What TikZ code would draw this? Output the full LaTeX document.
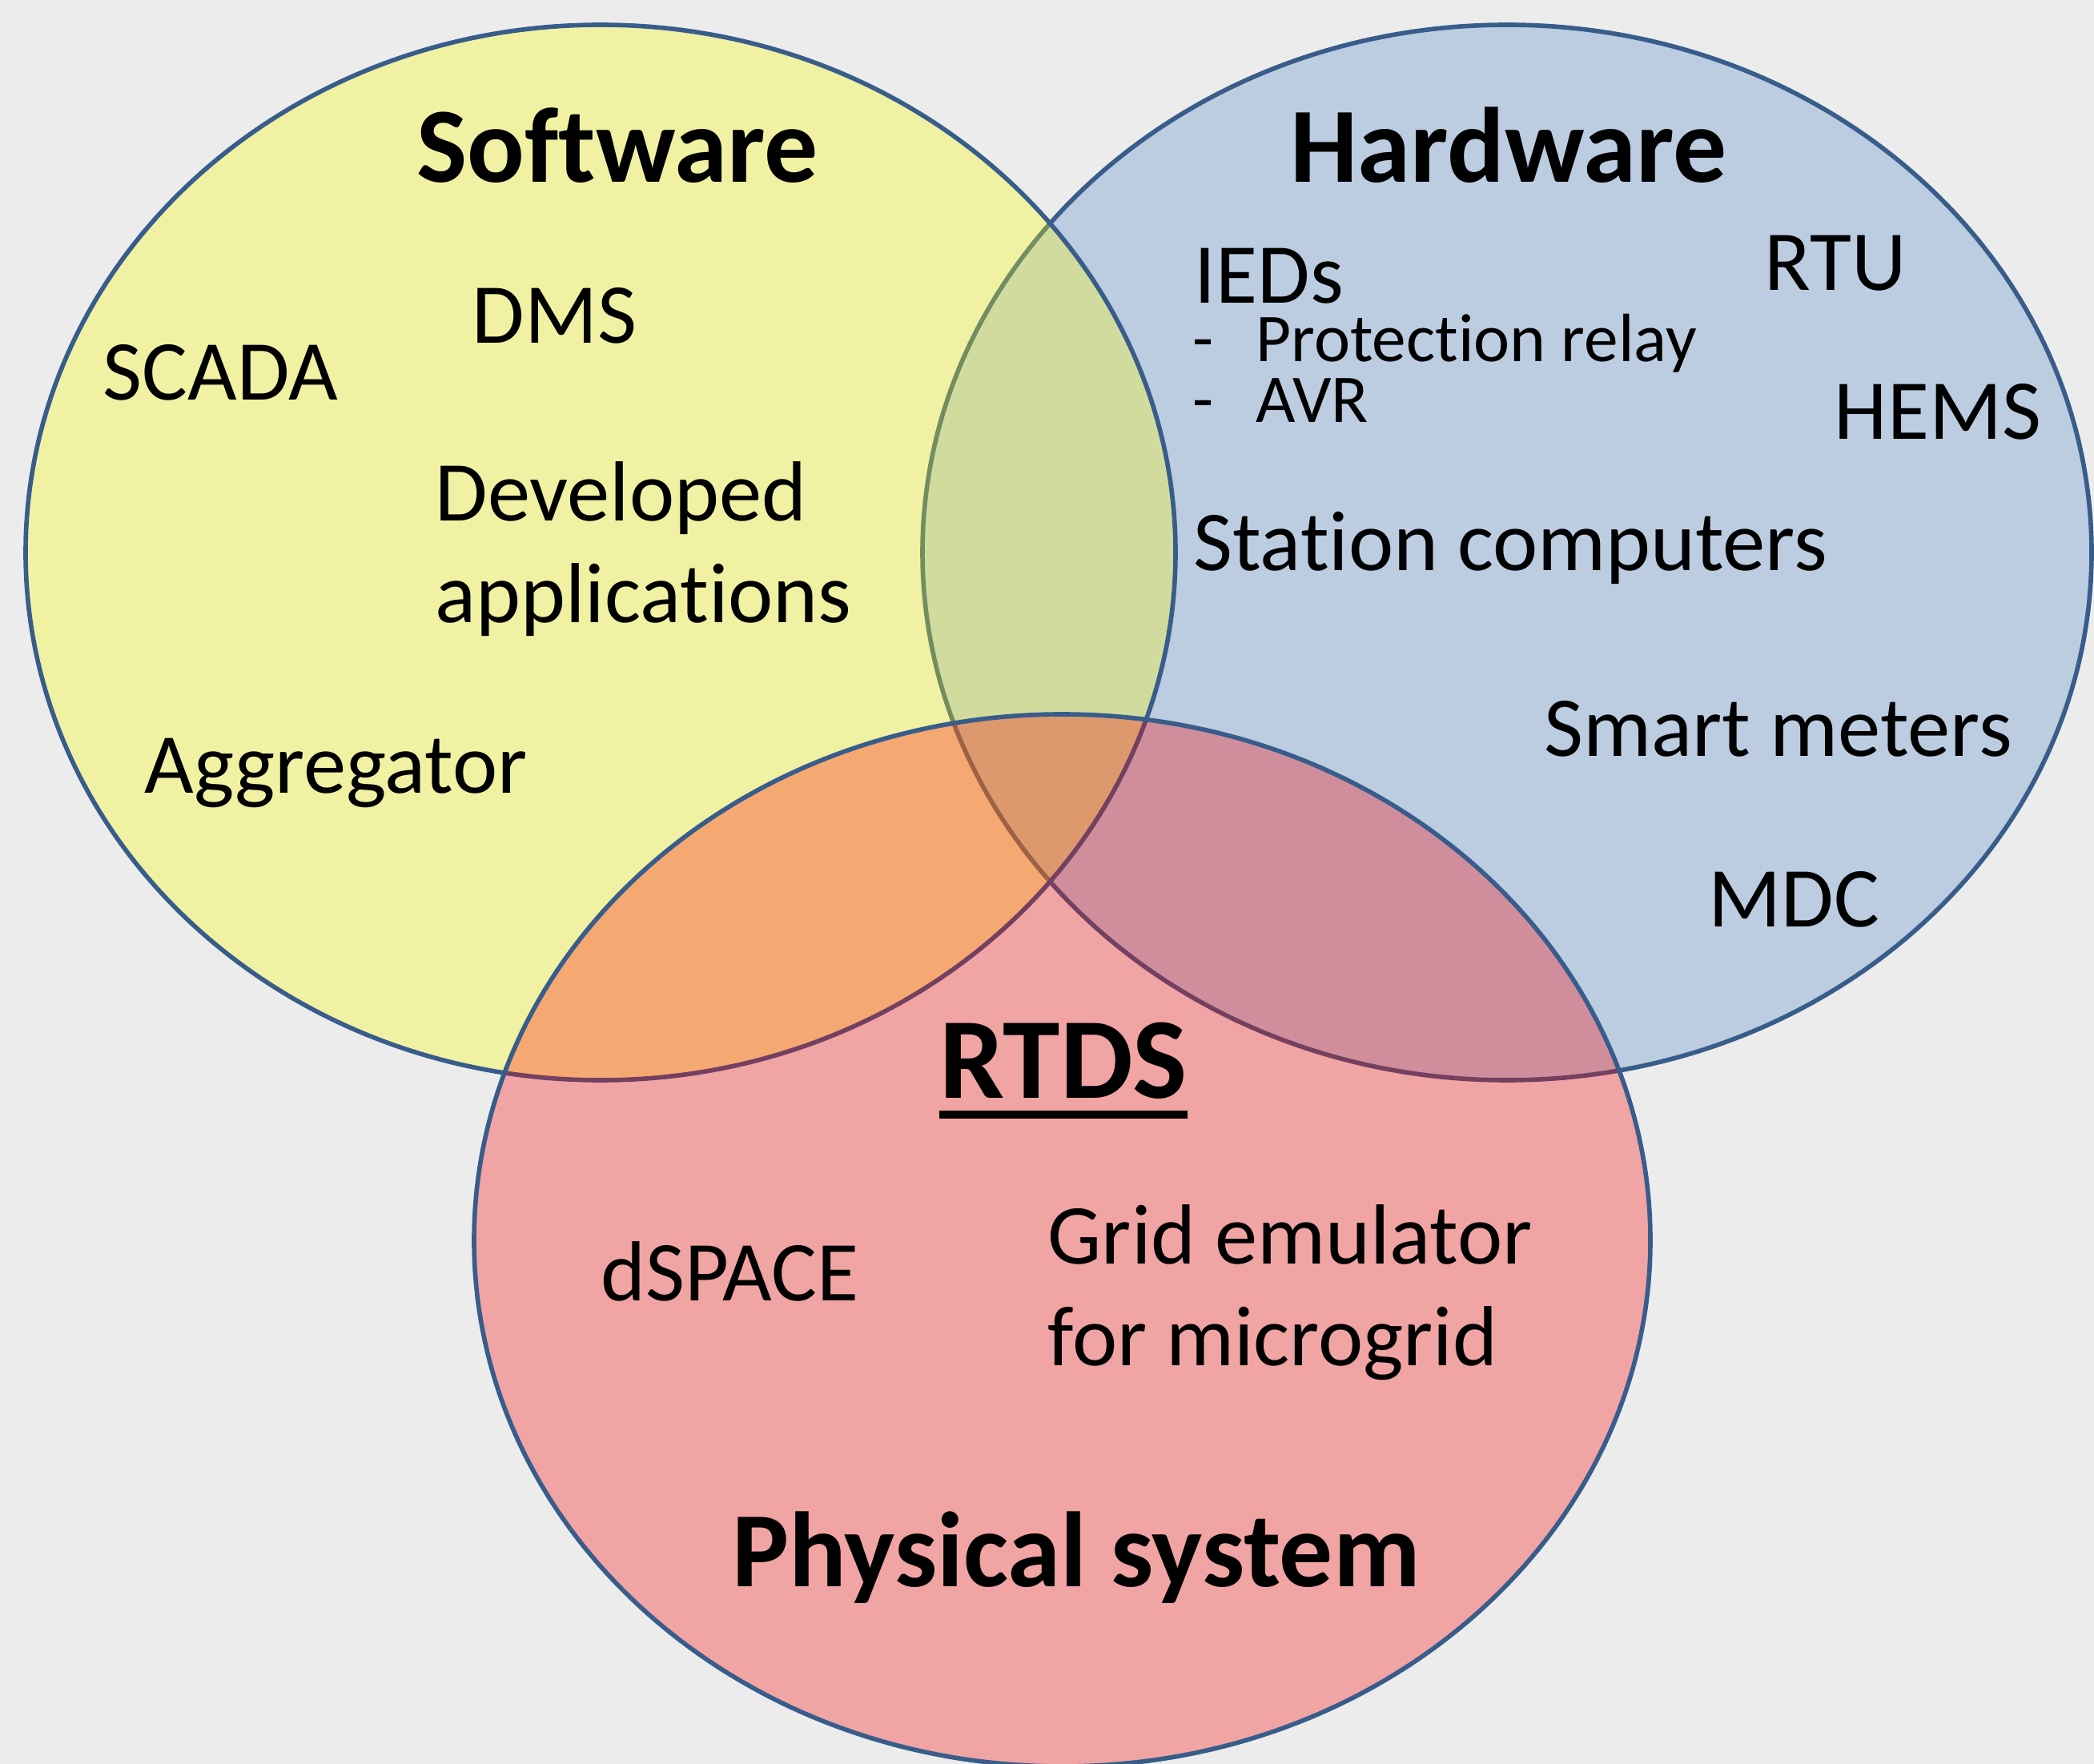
\documentclass[tikz,border=0pt]{standalone}
\usepackage{fontspec}
\setmainfont{Carlito}[Ligatures=NoCommon]
\definecolor{bggray}{RGB}{236,236,236}
\definecolor{edgeblue}{RGB}{56,93,138}
\definecolor{hwblue}{RGB}{78,133,202}
\definecolor{swyellow}{RGB}{255,255,0}
\definecolor{psred}{RGB}{255,0,0}
\newcommand{\thickul}[1]{\setbox0=\hbox{#1}\rlap{\copy0}\rule[-0.26cm]{\wd0}{0.1cm}}

\begin{document}
\begin{tikzpicture}[
    venn/.style={draw=edgeblue, line width=1.6pt, fill opacity=0.3},
    title/.style={anchor=base, inner sep=0pt, font=\fontsize{38}{45}\selectfont\bfseries},
    item/.style={anchor=base west, inner sep=0pt, align=left, font=\fontsize{30.3}{36.1}\selectfont},
    subitem/.style={anchor=base west, inner sep=0pt, font=\fontsize{24.3}{29}\selectfont}]
    \useasboundingbox (0,0) rectangle (26.15,-22.03);
    \fill[bggray] (0,0) rectangle (26.15,-22.03);

    \draw[venn, fill=hwblue] (18.82,-6.90) ellipse [x radius=7.30, y radius=6.59];
    \draw[venn, fill=swyellow] (7.50,-6.90) ellipse [x radius=7.18, y radius=6.59];
    \draw[venn, fill=psred] (13.265,-15.49) ellipse [x radius=7.345, y radius=6.57];

    \node[title] (software) at (7.71,-2.28) {Software};
    \node[title] (hardware) at (18.84,-2.28) {Hardware};
    \node[title, font=\fontsize{41}{49}\selectfont\bfseries] (rtds) at (13.28,-13.71) {\thickul{RTDS}};
    \node[title] (physical) at (13.44,-19.81) {Physical system};

    \node[item] (scada) at (1.28,-5.00) {SCADA};
    \node[item] (dms) at (5.89,-4.29) {DMS};
    \node[item] (developed) at (5.43,-7.77) {Developed\\applications};
    \node[item] (aggregator) at (1.80,-9.90) {Aggregator};

    \node[item] (ieds) at (14.91,-3.79) {IEDs};
    \node[subitem] (relay) at (14.89,-4.52) {\makebox[0.79cm][l]{-}Protection relay};
    \node[subitem] (avr) at (14.89,-5.28) {\makebox[0.79cm][l]{-}AVR};
    \node[item] (rtu) at (22.03,-3.63) {RTU};
    \node[item] (hems) at (22.90,-5.49) {HEMS};
    \node[item] (station) at (14.90,-7.12) {Station computers};
    \node[item] (smart) at (19.28,-9.44) {Smart meters};
    \node[item] (mdc) at (21.33,-11.57) {MDC};

    \node[item] (dspace) at (7.50,-16.24) {dSPACE};
    \node[item] (grid) at (13.08,-17.05) {Grid emulator\\for microgrid};
\end{tikzpicture}
\end{document}
